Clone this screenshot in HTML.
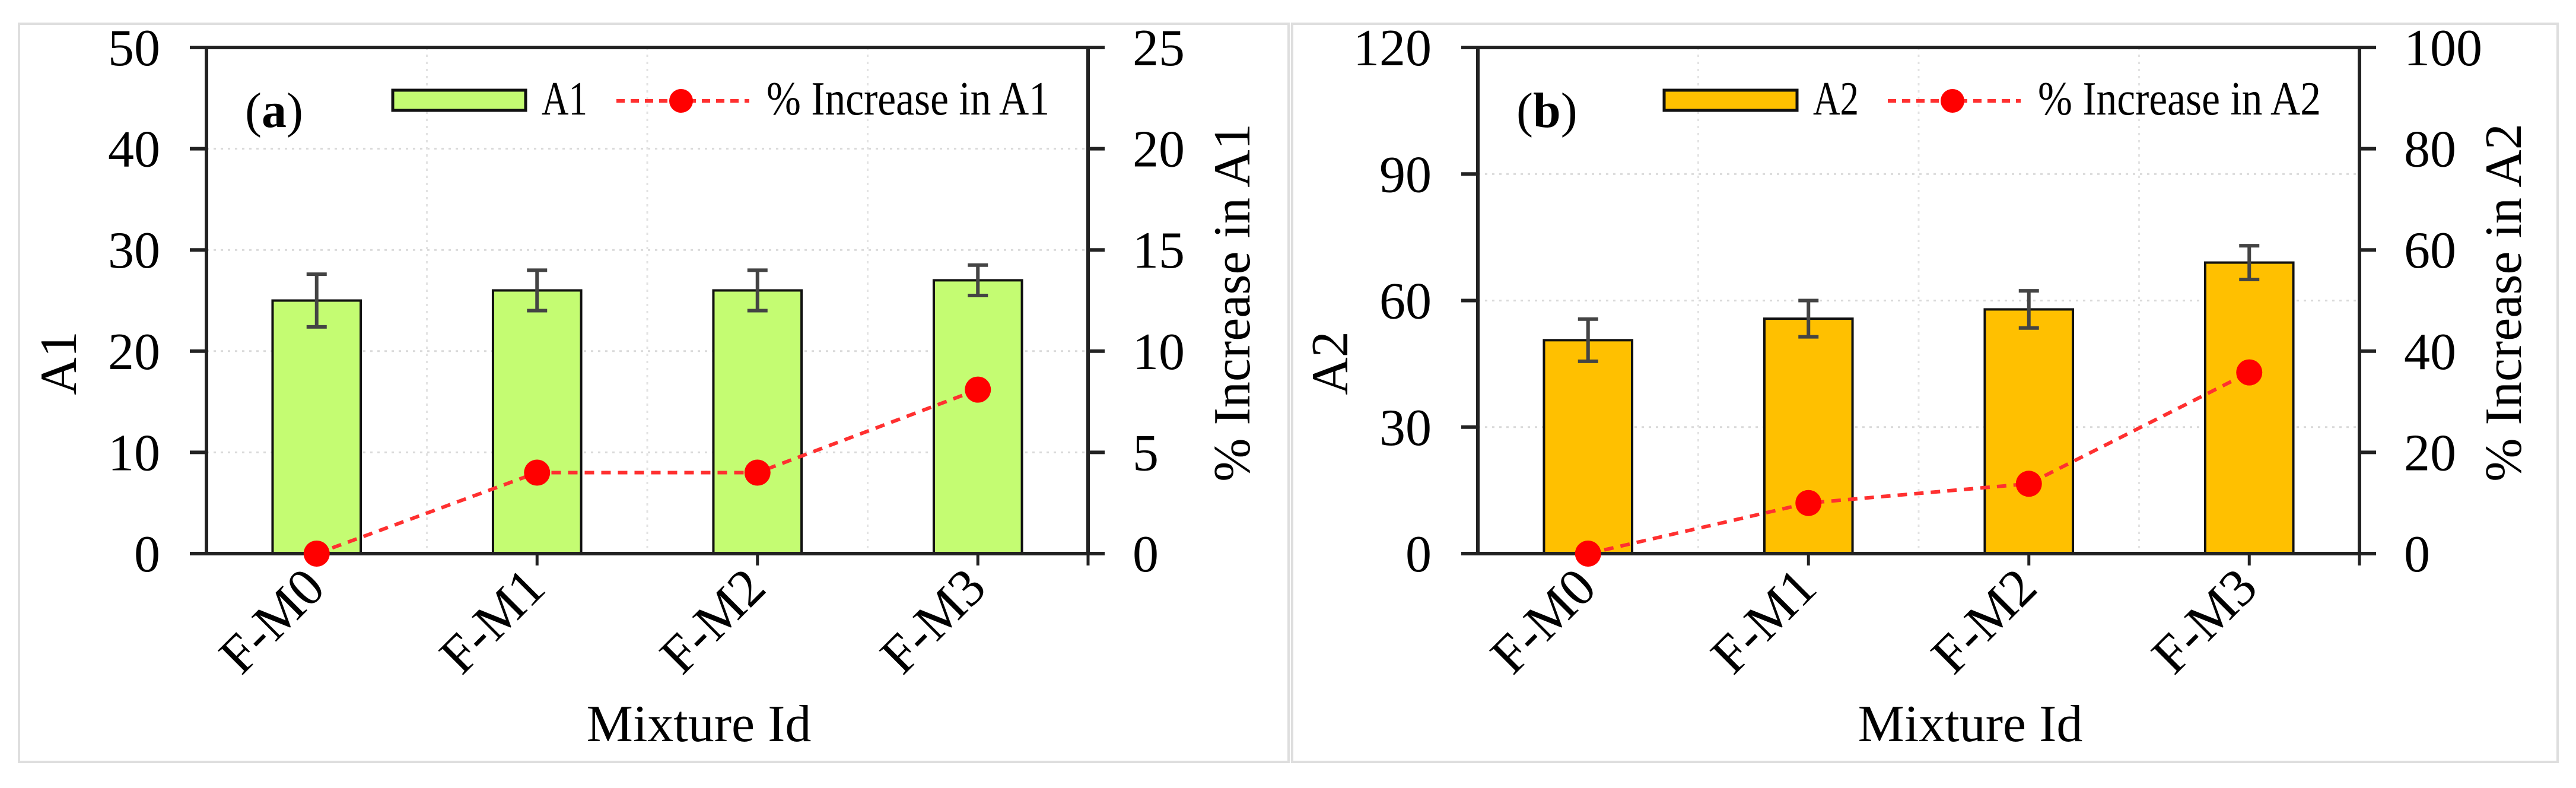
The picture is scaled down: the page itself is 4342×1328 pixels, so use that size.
<!DOCTYPE html>
<html><head><meta charset="utf-8"><style>
html,body{margin:0;padding:0;background:#fff;}
svg{display:block;font-family:"Liberation Serif",serif;}
</style></head><body>
<svg id="chart" width="4342" height="1328" viewBox="0 0 4342 1328" xmlns="http://www.w3.org/2000/svg">
<rect x="0" y="0" width="4342" height="1328" fill="#fff"/>
</svg>
<script>
const categories = ["F-M0","F-M1","F-M2","F-M3"];
const a1Values = [25, 26, 26, 27];
const a1Errors = [2.6, 2.0, 2.0, 1.5];
const a1Increase = [0, 4, 4, 8.1];
const a1LeftTicks = [0,10,20,30,40,50];
const a1RightTicks = [0,5,10,15,20,25];
const a2Values = [50.6, 55.7, 57.9, 69];
const a2Errors = [5, 4.3, 4.4, 4];
const a2Increase = [0, 10, 13.8, 35.8];
const a2LeftTicks = [0,30,60,90,120];
const a2RightTicks = [0,20,40,60,80,100];

const NS = "http://www.w3.org/2000/svg";
const svg = document.getElementById('chart');
function mk(tag, attrs, parent, text){
  const e = document.createElementNS(NS, tag);
  for (const k in attrs) e.setAttribute(k, attrs[k]);
  if (text !== undefined) e.textContent = text;
  (parent||svg).appendChild(e);
  return e;
}

function panel(cfg){
  const g = mk('g', {});
  
  
  const fr = mk('rect', {x:cfg.fx, y:40, width:cfg.fw, height:1244, fill:'none', stroke:'#dedede', 'stroke-width':4}, g);
  
  
  const L = cfg.left, R = L + 1486, T = 80, B = 933;
  const lMax = cfg.lTicks[cfg.lTicks.length-1], rMax = cfg.rTicks[cfg.rTicks.length-1];
  const yL = v => B - (v / lMax) * (B - T);
  const yR = v => B - (v / rMax) * (B - T);
  const step = (R - L) / categories.length;
  const xC = i => L + step * (i + 0.5);
  cfg.lTicks.forEach((t, i) => {
    if (t === 0 || t === lMax) return;
    const gl = mk('line', {x1:L, x2:R, y1:yL(t), y2:yL(t), stroke:'#d9d9d9', 'stroke-width':3, 'stroke-dasharray':'4 8'}, g);
    
    
  });
  for (let i = 1; i < categories.length; i++) {
    const vx = L + step * i;
    const gl = mk('line', {x1:vx, x2:vx, y1:T, y2:B, stroke:'#e3e3e3', 'stroke-width':3, 'stroke-dasharray':'4 8'}, g);
    
    
  }
  const bw = step * 0.4;
  cfg.values.forEach((v, i) => {
    const b = mk('rect', {x:xC(i)-bw/2, y:yL(v), width:bw, height:B-yL(v), fill:cfg.color, stroke:'#111', 'stroke-width':4}, g);
    
    
    const e = cfg.errs[i];
    const eg = mk('path', {d:`M${xC(i)} ${yL(v+e)}V${yL(v-e)}M${xC(i)-17} ${yL(v+e)}H${xC(i)+17}M${xC(i)-17} ${yL(v-e)}H${xC(i)+17}`, stroke:'#444', 'stroke-width':6, fill:'none'}, g);
    
    
  });
  const ax = mk('path', {d:`M${L} ${T}V${B}M${R} ${T}V${B}M${L-28} ${T}H${R+28}M${L-28} ${B}H${R+28}`, stroke:'#222', 'stroke-width':6, fill:'none'}, g);
  
  
  cfg.lTicks.forEach(t => {
    const tk = mk('line', {x1:L-28, x2:L, y1:yL(t), y2:yL(t), stroke:'#222', 'stroke-width':6}, g);
    
    
    const tl = mk('text', {x:L-78, y:yL(t)+30, 'text-anchor':'end', 'font-size':88, fill:'#000'}, g, String(t));
    
    
  });
  cfg.rTicks.forEach(t => {
    const tk = mk('line', {x1:R, x2:R+28, y1:yR(t), y2:yR(t), stroke:'#222', 'stroke-width':6}, g);
    
    
    const tl = mk('text', {x:R+75, y:yR(t)+30, 'text-anchor':'start', 'font-size':88, fill:'#000'}, g, String(t));
    
    
  });
  for (let i = 0; i <= categories.length; i++) {
    const tx = i < categories.length ? xC(i) : R;
    const tk = mk('line', {x1:tx, x2:tx, y1:B, y2:B+20, stroke:'#222', 'stroke-width':5}, g);
    
    
  }
  categories.forEach((c, i) => {
    const tl = mk('text', {x:xC(i)+18, y:B+62, 'text-anchor':'end', 'font-size':90, fill:'#000', transform:`rotate(-45 ${xC(i)+18} ${B+62})`}, g, c);
    
    
  });
  const pts = cfg.inc.map((v, i) => `${xC(i)},${yR(v)}`).join(' ');
  const pl = mk('polyline', {points:pts, fill:'none', stroke:'#ff3030', 'stroke-width':6, 'stroke-dasharray':'16 12'}, g);
  
  
  cfg.inc.forEach((v, i) => {
    const c = mk('circle', {cx:xC(i), cy:yR(v), r:22, fill:'#ff0000'}, g);
    
    
  });
  const lt = mk('text', {x:L-220, y:612, 'text-anchor':'middle', 'font-size':88, fill:'#000', transform:`rotate(-90 ${L-220} 612)`}, g, cfg.name);
  
  
  const rt = mk('text', {x:R+272, y:510, 'text-anchor':'middle', 'font-size':88, fill:'#000', transform:`rotate(-90 ${R+272} 510)`}, g, '% Increase in ' + cfg.name);
  
  
  const xt = mk('text', {x:L+830, y:1249, 'text-anchor':'middle', 'font-size':88, fill:'#000'}, g, 'Mixture Id');
  
  
  const pn = mk('text', {x:L+65, y:214, 'font-size':84, fill:'#000'}, g);
  
  
  mk('tspan', {}, pn, '(');
  mk('tspan', {'font-weight':'bold'}, pn, cfg.letter);
  mk('tspan', {}, pn, ')');
  const lg = mk('g', {}, g);
  
  
  const sw = mk('rect', {x:L+314, y:152, width:224, height:34, fill:cfg.color, stroke:'#111', 'stroke-width':5}, lg);
  
  
  const l1 = mk('text', {x:L+565, y:193, 'font-size':80, fill:'#000', textLength:77, lengthAdjust:'spacingAndGlyphs'}, lg, cfg.name);
  
  
  const ll = mk('line', {x1:L+691, x2:L+915, y1:170, y2:170, stroke:'#ff3030', 'stroke-width':6, 'stroke-dasharray':'14 10'}, lg);
  
  
  const lc = mk('circle', {cx:L+800, cy:170, r:20, fill:'#ff0000'}, lg);
  
  
  const l2 = mk('text', {x:L+944, y:193, 'font-size':80, fill:'#000', textLength:477, lengthAdjust:'spacingAndGlyphs'}, lg, '% Increase in ' + cfg.name);
  
  
}

panel({id:'a1', name:'A1', letter:'a', fx:32, fw:2140, left:348, color:'#c4fc72', values:a1Values, errs:a1Errors, inc:a1Increase, lTicks:a1LeftTicks, rTicks:a1RightTicks});
panel({id:'a2', name:'A2', letter:'b', fx:2178, fw:2133, left:2491, color:'#ffc000', values:a2Values, errs:a2Errors, inc:a2Increase, lTicks:a2LeftTicks, rTicks:a2RightTicks});
</script>
</body></html>
